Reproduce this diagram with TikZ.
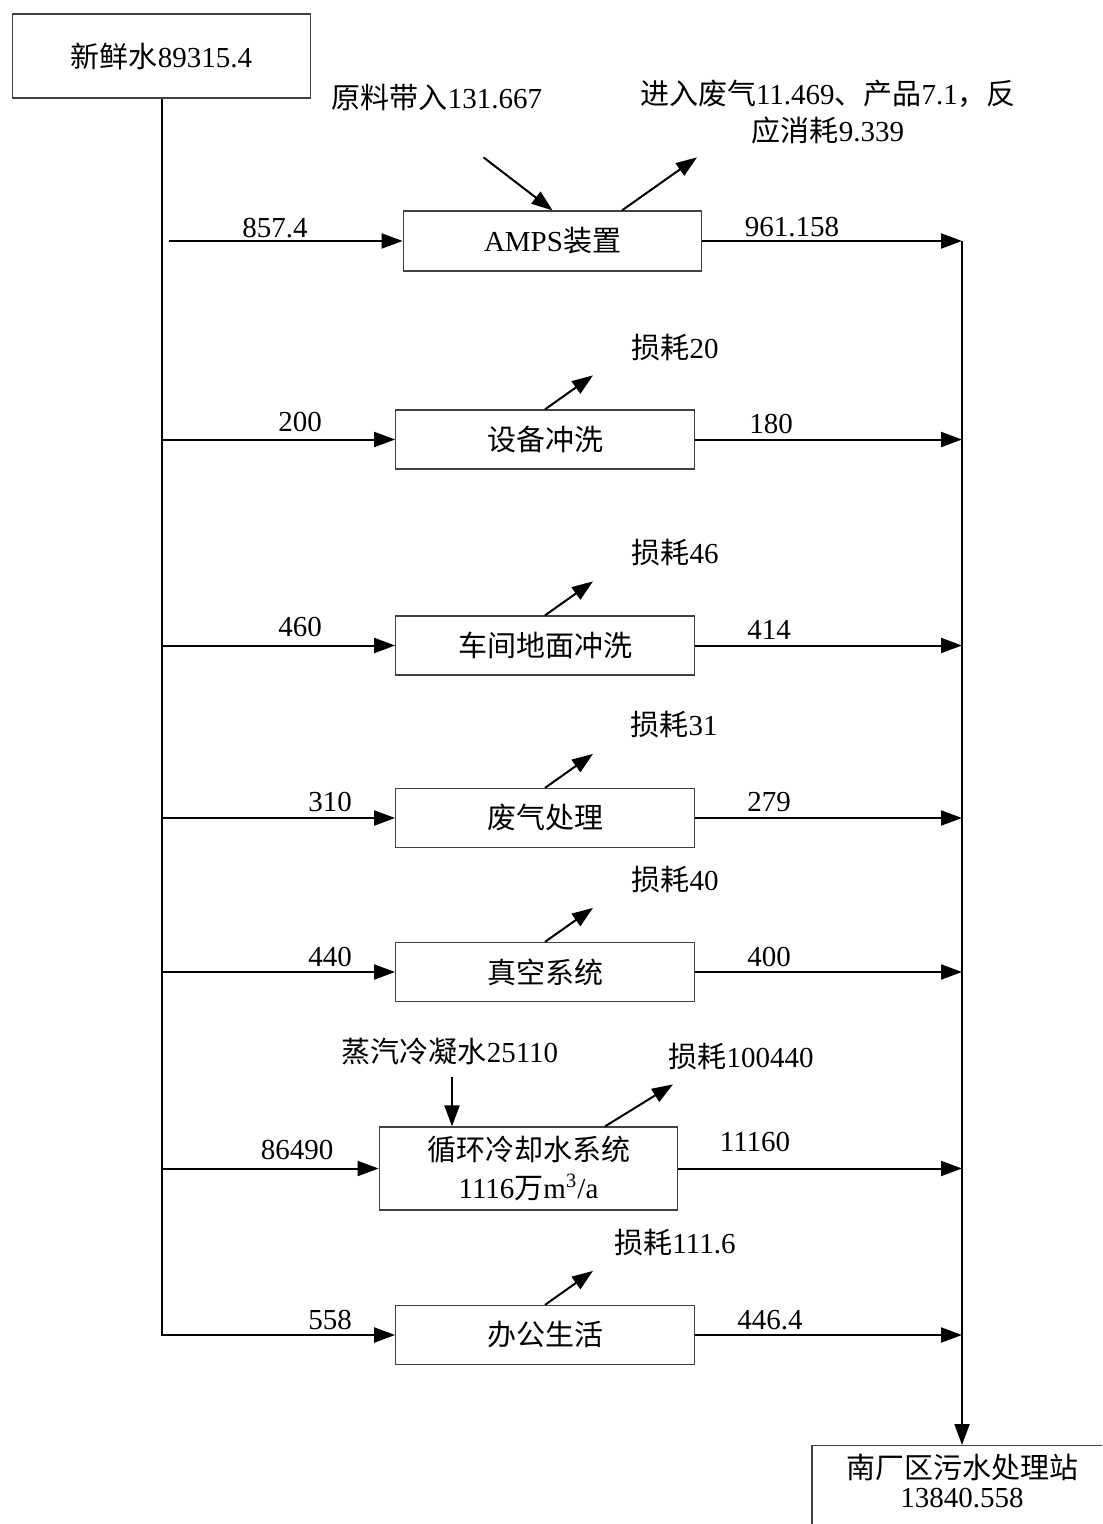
\documentclass[tikz,border=0pt]{standalone}
\usepackage{fontspec}
\setmainfont{Liberation Serif}
\newfontfamily\zhfont{Noto Sans CJK SC}
\newcommand{\zh}[1]{{\zhfont #1}}
\usetikzlibrary{arrows.meta,positioning}

\begin{document}
\begin{tikzpicture}[
  x=0.4pt, y=-0.4pt,
  font=\fontsize{11.6pt}{14.8pt}\selectfont,
  unit/.style={draw=black!75, line width=0.5pt, minimum width=119.4pt,
               minimum height=23.6pt, inner sep=0pt, align=center},
  flow/.style={-{Triangle[length=8.4pt,width=6pt]}, line width=0.8pt},
  qty/.style={inner sep=0pt, align=center},
]
\useasboundingbox (0,0) rectangle (1102,1524);
\clip (0,0) rectangle (1102,1524);

% ---------------- source, units, sink --------------------------------
\node[unit, minimum height=33.6pt] (fresh) at (161.5,56) {\zh{新鲜水}89315.4};
\node[unit, minimum height=24pt] (amps) at (552.5,241) {AMPS\zh{装置}};
\node[unit] (flush)  at (545,439.5)  {\zh{设备冲洗}};
\node[unit] (floor)  at (545,645.5)  {\zh{车间地面冲洗}};
\node[unit] (gas)    at (545,818)    {\zh{废气处理}};
\node[unit] (vac)    at (545,972)    {\zh{真空系统}};
\node[unit, minimum height=33.2pt] (cool) at (528.5,1168.5)
  {\zh{循环冷却水系统}\\[0.4pt]1116\zh{万}m\textsuperscript{3}/a};
\node[unit] (office) at (545,1335)   {\zh{办公生活}};
\node[unit, minimum width=120pt, anchor=north, inner ysep=3.4pt, text depth=60pt]
  (sink) at (962,1445) {\zh{南厂区污水处理站}\\[-3.2pt]13840.558};

% ---------------- trunk and inflows ----------------------------------
\draw[flow] (fresh.south) |- (office.west);
\draw[flow] ([xshift=2.8pt]fresh.south |- amps.west) -- (amps.west);
\foreach \b in {flush,floor,gas,vac,cool}
  \draw[flow] (fresh.south |- \b.west) -- (\b.west);

% ---------------- outflows and collector -----------------------------
\foreach \b in {amps,flush,floor,gas,vac,cool,office}
  \draw[flow] (\b.east) -- (sink.north |- \b.east);
\draw[flow] (sink.north |- amps.east) -- (sink.north);

% ---------------- side streams ---------------------------------------
\foreach \b in {flush,floor,gas,vac,office}
  \draw[flow] (\b.north) -- ++(48,-34);
\draw[flow] (amps.north) ++(-69,-53) -- (amps.north);
\draw[flow] ([xshift=27.8pt]amps.north) -- ++(75,-53);
\draw[flow] ([xshift=-30.6pt]cool.north) ++(0,-49) -- ([xshift=-30.6pt]cool.north);
\draw[flow] ([xshift=30.6pt]cool.north) -- ++(68,-42);

% ---------------- quantities ----------------------------------------
\node[qty] (inamps)    at (275,228)  {857.4};
\node[qty] (outamps)   at (792,227)  {961.158};
\node[qty] (inflush)   at (300,422)  {200};
\node[qty] (outflush)  at (771,424)  {180};
\node[qty] (infloor)   at (300,627)  {460};
\node[qty] (outfloor)  at (769,630)  {414};
\node[qty] (ingas)     at (330,802)  {310};
\node[qty] (outgas)    at (769,802)  {279};
\node[qty] (invac)     at (330,957)  {440};
\node[qty] (outvac)    at (769,957)  {400};
\node[qty] (incool)    at (297,1150) {86490};
\node[qty] (outcool)   at (755,1142) {11160};
\node[qty] (inoffice)  at (330,1320) {558};
\node[qty] (outoffice) at (770,1320) {446.4};

\node[qty] (feed)  at (437,97)   {\zh{原料带入}131.667};
\node[qty] (emit)  at (828,112)  {\zh{进入废气}11.469\zh{、产品}7.1\zh{，反}\\\zh{应消耗}9.339};
\node[qty] (steam) at (450,1052) {\zh{蒸汽冷凝水}25110};

\node[qty] (lossflush)  at (675,348)  {\zh{损耗}20};
\node[qty] (lossfloor)  at (675,553)  {\zh{损耗}46};
\node[qty] (lossgas)    at (674,725)  {\zh{损耗}31};
\node[qty] (lossvac)    at (675,880)  {\zh{损耗}40};
\node[qty] (losscool)   at (741,1057) {\zh{损耗}100440};
\node[qty] (lossoffice) at (675,1243) {\zh{损耗}111.6};

\end{tikzpicture}
\end{document}
